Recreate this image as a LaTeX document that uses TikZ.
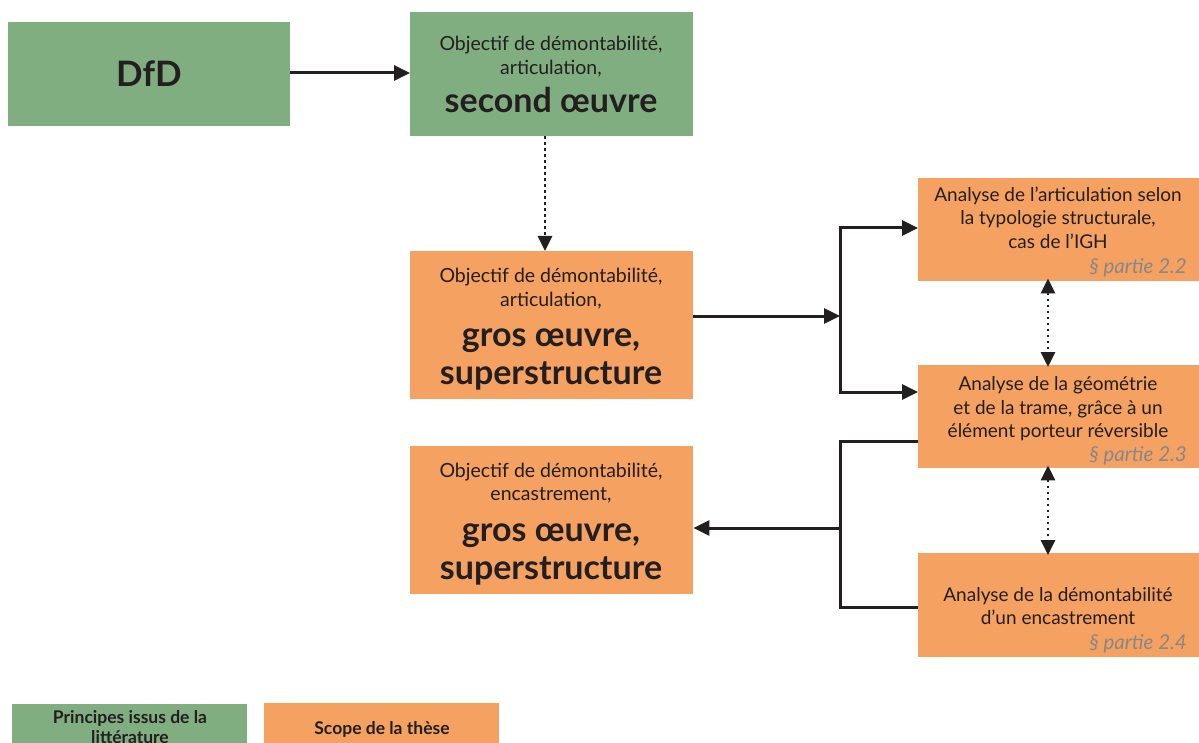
\documentclass[tikz,border=0pt]{standalone}
\usepackage{fontspec}
\setmainfont{Lato}
\usetikzlibrary{arrows.meta}
\definecolor{vertbox}{RGB}{128,174,128}
\definecolor{orngbox}{RGB}{245,161,98}
\definecolor{txt}{RGB}{35,31,32}
\definecolor{refgray}{RGB}{135,135,135}
\tikzset{
  gbox/.style={fill=vertbox, draw=none, anchor=north west, inner sep=0pt},
  obox/.style={fill=orngbox, draw=none, anchor=north west, inner sep=0pt},
  smalltxt/.style={anchor=base, text=txt, inner sep=0pt, font=\fontsize{19.5}{22}\selectfont},
  righttxt/.style={anchor=base, text=txt, inner sep=0pt, font=\fontsize{19}{22}\selectfont},
  bigtxt/.style={anchor=base, text=txt, inner sep=0pt, font=\fontsize{34}{40}\selectfont\bfseries},
  reftxt/.style={anchor=base east, text=refgray, inner sep=0pt, font=\fontsize{20.5}{24}\selectfont\itshape},
  legtxt/.style={anchor=base, text=txt, inner sep=0pt, font=\fontsize{17.5}{20}\selectfont\bfseries},
  conn/.style={line width=3pt, draw=txt, line join=miter},
  arr/.style={conn, -{Triangle[length=16pt,width=15pt]}},
  dots/.style={line width=2.8pt, draw=txt, dash pattern=on 2.4pt off 3.6pt},
  dotarr/.style={dots, -{Triangle[length=15pt,width=14pt]}},
  dotdbl/.style={dots, {Triangle[length=15pt,width=14pt]}-{Triangle[length=15pt,width=14pt]}},
}
\begin{document}
\begin{tikzpicture}[x=1pt,y=-1pt]
\useasboundingbox (0,0) rectangle (1199,743);
% boxes
\node[gbox, minimum width=282pt, minimum height=104pt] (dfd) at (8,22) {};
\node[gbox, minimum width=283pt, minimum height=124pt] (sec) at (410,12) {};
\node[obox, minimum width=283pt, minimum height=148pt] (go1) at (410,251) {};
\node[obox, minimum width=283pt, minimum height=148pt] (go2) at (410,446) {};
\node[obox, minimum width=281pt, minimum height=103pt] (ra) at (918,178) {};
\node[obox, minimum width=281pt, minimum height=103pt] (rb) at (918,365) {};
\node[obox, minimum width=281pt, minimum height=104pt] (rc) at (918,553) {};
\node[gbox, minimum width=235pt, minimum height=40pt] (lg) at (12,704) {};
\node[obox, minimum width=235pt, minimum height=40pt] (lo) at (264,703) {};
% texts
\node[anchor=base, text=txt, inner sep=0pt, font=\fontsize{35}{40}\selectfont\bfseries] (tdfd) at (149,87) {DfD};
\node[smalltxt] (s1) at (551,51) {Objectif de démontabilité,};
\node[smalltxt] (s2) at (551,75) {articulation,};
\node[bigtxt] (s3) at (551,113) {second œuvre};
\node[smalltxt] (a1) at (551,283) {Objectif de démontabilité,};
\node[smalltxt] (a2) at (551,306) {articulation,};
\node[bigtxt] (a3) at (551,346) {gros œuvre,};
\node[bigtxt] (a4) at (551,384) {superstructure};
\node[smalltxt] (b1) at (551,477) {Objectif de démontabilité,};
\node[smalltxt] (b2) at (551,500) {encastrement,};
\node[bigtxt] (b3) at (551,541) {gros œuvre,};
\node[bigtxt] (b4) at (551,579) {superstructure};
\node[righttxt] (ra1) at (1058,202) {Analyse de l’articulation selon};
\node[righttxt] (ra2) at (1058,225) {la typologie structurale,};
\node[righttxt] (ra3) at (1058,249) {cas de l’IGH};
\node[reftxt] (ra4) at (1187,274) {§ partie 2.2};
\node[righttxt] (rb1) at (1058,390) {Analyse de la géométrie};
\node[righttxt] (rb2) at (1058,414) {et de la trame, grâce à un};
\node[righttxt] (rb3) at (1058,437) {élément porteur réversible};
\node[reftxt] (rb4) at (1187,461) {§ partie 2.3};
\node[righttxt] (rc1) at (1058,601) {Analyse de la démontabilité};
\node[righttxt] (rc2) at (1058,624) {d’un encastrement};
\node[reftxt] (rc3) at (1187,649) {§ partie 2.4};
\node[legtxt] (l1) at (130,723) {Principes issus de la};
\node[legtxt] (l2) at (130,743) {littérature};
\node[legtxt] (l3) at (382,734) {Scope de la thèse};
% connectors
\coordinate (j1) at (840,316);
\coordinate (j2) at (840,528);
\coordinate (ja) at (840,228);
\coordinate (jb) at (840,392);
\coordinate (jc) at (840,441);
\coordinate (jd) at (840,607);
\draw[arr] (dfd.east |- 0,73) -- (sec.west |- 0,73);
\draw[dotarr] (sec.south -| 545,0) -- (go1.north -| 545,0);
\draw[arr] (go1.east |- j1) -- (j1);
\draw[conn] ([yshift=-1.5pt]ja) -- ([yshift=1.5pt]jb);
\draw[arr] ([xshift=-1.5pt]ja) -- (ra.west |- ja);
\draw[arr] ([xshift=-1.5pt]jb) -- (rb.west |- jb);
\draw[conn] (rb.west |- jc) -- (jc) -- (jd) -- (rc.west |- jd);
\draw[arr] (j2) -- (go2.east |- j2);
\draw[dotdbl] ([yshift=3pt]ra.south -| 1048,0) -- ([yshift=-2pt]rb.north -| 1048,0);
\draw[dotdbl] ([yshift=3pt]rb.south -| 1048,0) -- ([yshift=-2pt]rc.north -| 1048,0);
\end{tikzpicture}
\end{document}
